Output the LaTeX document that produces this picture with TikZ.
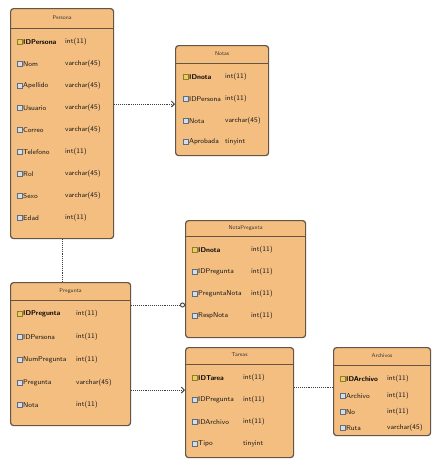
\documentclass[tikz,border=0pt]{standalone}
\usepackage{tikz}
\usetikzlibrary{arrows.meta, positioning, calc}
\definecolor{tabfill}{RGB}{244,190,128}
\definecolor{tabedge}{RGB}{100,85,70}
\definecolor{iconblue}{RGB}{160,182,210}
\definecolor{iconkey}{RGB}{235,205,90}
\tikzset{
    tbox/.style={draw=tabedge, fill=tabfill, rounded corners=3pt, line width=1.2pt, anchor=north west, inner sep=0pt},
    ttitle/.style={font=\sffamily\fontsize{5.5}{6}\selectfont, text=black!80},
    rowicon/.style={draw=iconblue!60!black, fill=iconblue!45, minimum size=5pt, inner sep=0pt},
    keyicon/.style={draw=iconkey!60!black, fill=iconkey, minimum size=5pt, inner sep=0pt},
    keycol/.style={anchor=west, inner sep=1pt, font=\sffamily\bfseries\fontsize{7}{8}\selectfont, label={[keyicon]left:{}}},
    col/.style={anchor=west, inner sep=1pt, font=\sffamily\fontsize{7}{8}\selectfont, text=black!90, label={[rowicon]left:{}}},
    typ/.style={anchor=west, inner sep=1pt, font=\sffamily\fontsize{7}{8}\selectfont, text=black!90},
    rel/.style={densely dotted, line width=0.9pt, draw=black!75}
}
\begin{document}
\begin{tikzpicture}[x=1pt, y=-1pt, >=Stealth]
    \useasboundingbox (0,0) rectangle (435,466);

    % Persona
    \node (persona) at (10,8) [tbox, minimum width=103pt, minimum height=230pt] {};
    \node[ttitle] (personaT) at ($(persona.north)+(0,10)$) {Persona};
    \draw[tabedge, line width=0.9pt] ([yshift=-20pt]persona.north west) -- ([yshift=-20pt]persona.north east);
    \node[keycol] (persona0) at (22,42) {IDPersona}; \node[typ] at (64,42) {int(11)};
    \node[col] (persona1) at (22,64) {Nom}; \node[typ] at (64,64) {varchar(45)};
    \node[col] (persona2) at (22,86) {Apellido}; \node[typ] at (64,86) {varchar(45)};
    \node[col] (persona3) at (22,108) {Usuario}; \node[typ] at (64,108) {varchar(45)};
    \node[col] (persona4) at (22,130) {Correo}; \node[typ] at (64,130) {varchar(45)};
    \node[col] (persona5) at (22,152) {Telefono}; \node[typ] at (64,152) {int(11)};
    \node[col] (persona6) at (22,174) {Rol}; \node[typ] at (64,174) {varchar(45)};
    \node[col] (persona7) at (22,196) {Sexo}; \node[typ] at (64,196) {varchar(45)};
    \node[col] (persona8) at (22,218) {Edad}; \node[typ] at (64,218) {int(11)};

    % Notas
    \node (notas) at (175,45) [tbox, minimum width=93pt, minimum height=110pt] {};
    \node[ttitle] (notasT) at ($(notas.north)+(0,9)$) {Notas};
    \draw[tabedge, line width=0.9pt] ([yshift=-18pt]notas.north west) -- ([yshift=-18pt]notas.north east);
    \node[keycol] (notas0) at (188,77) {IDnota}; \node[typ] at (224,77) {int(11)};
    \node[col] (notas1) at (188,99) {IDPersona}; \node[typ] at (224,99) {int(11)};
    \node[col] (notas2) at (188,121) {Nota}; \node[typ] at (224,121) {varchar(45)};
    \node[col] (notas3) at (188,142) {Aprobada}; \node[typ] at (224,142) {tinyint};

    % NotaPregunta
    \node (notapreg) at (185,220) [tbox, minimum width=120pt, minimum height=117pt] {};
    \node[ttitle] (notapregT) at ($(notapreg.north)+(0,8)$) {NotaPregunta};
    \draw[tabedge, line width=0.9pt] ([yshift=-16pt]notapreg.north west) -- ([yshift=-16pt]notapreg.north east);
    \node[keycol] (notapreg0) at (197,250) {IDnota}; \node[typ] at (250,250) {int(11)};
    \node[col] (notapreg1) at (197,272) {IDPregunta}; \node[typ] at (250,272) {int(11)};
    \node[col] (notapreg2) at (197,294) {PreguntaNota}; \node[typ] at (250,294) {int(11)};
    \node[col] (notapreg3) at (197,316) {RespNota}; \node[typ] at (250,316) {int(11)};

    % Pregunta
    \node (pregunta) at (10,282) [tbox, minimum width=120pt, minimum height=143pt] {};
    \node[ttitle] (preguntaT) at ($(pregunta.north)+(0,9)$) {Pregunta};
    \draw[tabedge, line width=0.9pt] ([yshift=-18pt]pregunta.north west) -- ([yshift=-18pt]pregunta.north east);
    \node[keycol] (pregunta0) at (22,314) {IDPregunta}; \node[typ] at (75,314) {int(11)};
    \node[col] (pregunta1) at (22,337) {IDPersona}; \node[typ] at (75,337) {int(11)};
    \node[col] (pregunta2) at (22,360) {NumPregunta}; \node[typ] at (75,360) {int(11)};
    \node[col] (pregunta3) at (22,383) {Pregunta}; \node[typ] at (75,383) {varchar(45)};
    \node[col] (pregunta4) at (22,405) {Nota}; \node[typ] at (75,405) {int(11)};

    % Tareas
    \node (tareas) at (185,347) [tbox, minimum width=108pt, minimum height=110pt] {};
    \node[ttitle] (tareasT) at ($(tareas.north)+(0,8)$) {Tareas};
    \draw[tabedge, line width=0.9pt] ([yshift=-17pt]tareas.north west) -- ([yshift=-17pt]tareas.north east);
    \node[keycol] (tareas0) at (197,378) {IDTarea}; \node[typ] at (242,378) {int(11)};
    \node[col] (tareas1) at (197,400) {IDPregunta}; \node[typ] at (242,400) {int(11)};
    \node[col] (tareas2) at (197,422) {IDArchivo}; \node[typ] at (242,422) {int(11)};
    \node[col] (tareas3) at (197,444) {Tipo}; \node[typ] at (242,444) {tinyint};

    % Archivos
    \node (archivos) at (333,347) [tbox, minimum width=97pt, minimum height=88pt] {};
    \node[ttitle] (archivosT) at ($(archivos.north)+(0,9)$) {Archivos};
    \draw[tabedge, line width=0.9pt] ([yshift=-18pt]archivos.north west) -- ([yshift=-18pt]archivos.north east);
    \node[keycol] (archivos0) at (345,379) {IDArchivo}; \node[typ] at (386,379) {int(11)};
    \node[col] (archivos1) at (345,396) {Archivo}; \node[typ] at (386,396) {int(11)};
    \node[col] (archivos2) at (345,412) {No}; \node[typ] at (386,412) {int(11)};
    \node[col] (archivos3) at (345,428) {Ruta}; \node[typ] at (386,428) {varchar(45)};

    % Relations
    \coordinate (r1) at (0,104);
    \coordinate (r3) at (0,305);
    \coordinate (r4) at (0,390);
    \coordinate (r5) at (0,387);
    \draw[rel, -{Straight Barb[length=3pt]}] (persona.east |- r1) -- (notas.west |- r1);
    \draw[rel] (persona.south) -- (persona.south |- pregunta.north);
    \draw[rel, -{Circle[open, length=5pt]}] (pregunta.east |- r3) -- (notapreg.west |- r3);
    \draw[rel, -{Straight Barb[length=3pt]}] (pregunta.east |- r4) -- (tareas.west |- r4);
    \draw[rel] (tareas.east |- r5) -- (archivos.west |- r5);
\end{tikzpicture}
\end{document}
